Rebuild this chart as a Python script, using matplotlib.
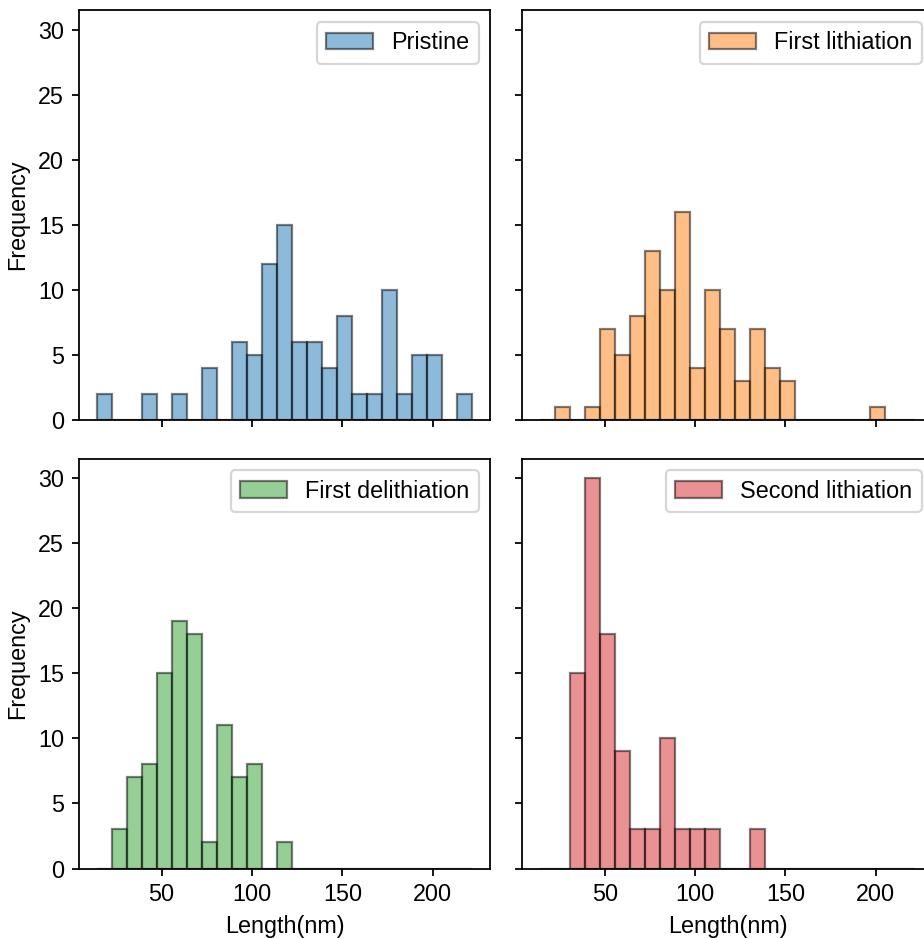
import numpy as np
import matplotlib
matplotlib.use("Agg")
import matplotlib.pyplot as plt

plt.rcParams['font.family'] = ['Liberation Sans', 'DejaVu Sans']
plt.rcParams['font.size'] = 10.5

# Common histogram bins (25 bins) over Length(nm)
bin_min, bin_max, n_bins = 14.4, 221.6, 25

labels = ["Pristine", "First lithiation", "First delithiation", "Second lithiation"]
colors = ["tab:blue", "tab:orange", "tab:green", "tab:red"]

# counts per bin (25 bins)
pristine = [2, 0, 0, 2, 0, 2, 0, 4, 0, 6, 5, 12, 15, 6, 6, 4, 8, 2, 2, 10, 2, 5, 5, 0, 2]
first_lith = [0, 1, 0, 1, 7, 5, 8, 13, 10, 16, 4, 10, 7, 3, 7, 4, 3, 0, 0, 0, 0, 0, 1, 0, 0]
first_delith = [0, 3, 7, 8, 15, 19, 18, 2, 11, 7, 8, 0, 2, 0, 0, 0, 0, 0, 0, 0, 0, 0, 0, 0, 0]
second_lith = [0, 0, 15, 30, 18, 9, 3, 3, 10, 3, 3, 3, 0, 0, 3, 0, 0, 0, 0, 0, 0, 0, 0, 0, 0]

series = [pristine, first_lith, first_delith, second_lith]

edges = np.linspace(bin_min, bin_max, n_bins + 1)
centers = 0.5 * (edges[:-1] + edges[1:])

dpi = 160
fig, axes = plt.subplots(2, 2, sharex=True, sharey=True,
                         figsize=(924 / dpi, 938 / dpi), dpi=dpi)
W, H = 924.0, 938.0
fig.subplots_adjust(left=78.5 / W, right=933.6 / W,
                    bottom=1 - 868.5 / H, top=1 - 10.3 / H,
                    wspace=0.0757, hspace=0.0944)

for ax, counts, lab, col in zip(axes.flat, series, labels, colors):
    ax.hist(centers, bins=edges, weights=counts, color=col, alpha=0.5,
            edgecolor="black", linewidth=1.0, label=lab)
    ax.legend(loc="upper right")
    ax.tick_params(length=3.0)

axes[0, 0].set_ylabel("Frequency")
axes[1, 0].set_ylabel("Frequency")
axes[1, 0].set_xlabel("Length(nm)")
axes[1, 1].set_xlabel("Length(nm)")
axes[0, 0].set_yticks([0, 5, 10, 15, 20, 25, 30])
axes[0, 0].set_xticks([50, 100, 150, 200])

fig.savefig("out.png", dpi=dpi)
